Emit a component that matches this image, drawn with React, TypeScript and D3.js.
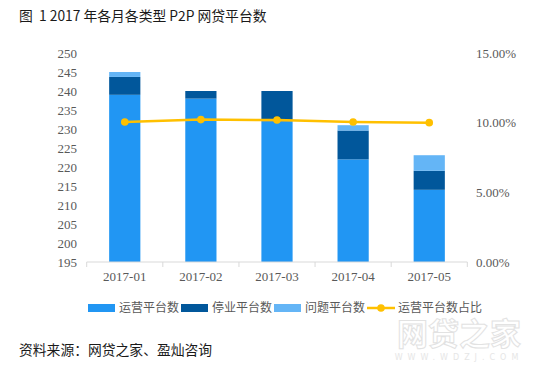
import React, { useEffect, useRef } from 'react';
import * as d3 from 'd3';

// data
const months = ['2017-01', '2017-02', '2017-03', '2017-04', '2017-05'];
const operating = [239, 238, 232, 222, 214];
const stopped = [4.7, 2, 8, 7.6, 5];
const problem = [1.3, 0, 0, 1.4, 4.1];
const operatingShare = [0.1005, 0.1022, 0.1019, 0.1005, 0.1];

const leftTicks = d3.range(195, 251, 5);
const rightTicks = [0, 0.05, 0.1, 0.15];

const seriesNames = ['运营平台数', '停业平台数', '问题平台数'];
const lineName = '运营平台数占比';
const colors = ['#2196F3', '#01579B', '#64B5F6'];
const lineColor = '#FFC000';

const cjk = '"Noto Sans CJK SC", "Noto Sans", sans-serif';
const serif = '"Liberation Serif", "DejaVu Serif", serif';

const App = () => {
  const svgRef = useRef(null);

  useEffect(() => {
    const svg = d3.select(svgRef.current);
    svg.selectAll('*').remove();

    const width = 558;
    const height = 370;
    const plot = { left: 86.7, right: 467.3, top: 53, bottom: 262 };

    svg.attr('width', width).attr('height', height);
    svg.append('rect').attr('width', width).attr('height', height).attr('fill', '#fff');

    // scales
    const x = d3
      .scaleBand()
      .domain(months)
      .range([plot.left, plot.right])
      .paddingInner(0.59)
      .paddingOuter(0.295);

    const y = d3.scaleLinear().domain([195, 250]).range([plot.bottom, plot.top]);
    const yRight = d3.scaleLinear().domain([0, 0.15]).range([plot.bottom, plot.top]);

    // stacked bars
    const rows = months.map((m, i) => ({
      month: m,
      s0: operating[i],
      s1: stopped[i],
      s2: problem[i],
    }));
    const stack = d3.stack().keys(['s0', 's1', 's2']);
    const stacked = stack(rows);

    stacked.forEach((layer, li) => {
      svg
        .append('g')
        .attr('fill', colors[li])
        .selectAll('rect')
        .data(layer)
        .join('rect')
        .attr('x', (d) => x(d.data.month))
        .attr('width', x.bandwidth())
        .attr('y', (d) => y(d[1]))
        .attr('height', (d) => y(Math.max(d[0], 195)) - y(d[1]));
    });

    // x axis
    const xAxis = svg.append('g').attr('transform', `translate(0, ${plot.bottom})`);
    xAxis
      .append('line')
      .attr('x1', plot.left)
      .attr('x2', plot.right)
      .attr('stroke', '#d9d9d9')
      .attr('stroke-width', 1);
    const bounds = [plot.left, ...months.map((m) => x(m) + x.bandwidth() / 2 + x.step() / 2)];
    xAxis
      .selectAll('.tk')
      .data(bounds)
      .join('line')
      .attr('x1', (d) => d)
      .attr('x2', (d) => d)
      .attr('y1', 0)
      .attr('y2', 5)
      .attr('stroke', '#d9d9d9');
    xAxis
      .selectAll('text')
      .data(months)
      .join('text')
      .attr('x', (d) => x(d) + x.bandwidth() / 2)
      .attr('y', 19)
      .attr('text-anchor', 'middle')
      .attr('font-family', serif)
      .attr('font-size', 13)
      .attr('fill', '#595959')
      .text((d) => d);

    // left axis labels
    svg
      .append('g')
      .selectAll('text')
      .data(leftTicks)
      .join('text')
      .attr('x', 77)
      .attr('y', (d) => y(d))
      .attr('dy', '0.35em')
      .attr('text-anchor', 'end')
      .attr('font-family', serif)
      .attr('font-size', 13)
      .attr('fill', '#595959')
      .text((d) => d);

    // right axis labels
    svg
      .append('g')
      .selectAll('text')
      .data(rightTicks)
      .join('text')
      .attr('x', 476)
      .attr('y', (d) => yRight(d))
      .attr('dy', '0.35em')
      .attr('font-family', serif)
      .attr('font-size', 13)
      .attr('fill', '#595959')
      .text((d) => d3.format('.2%')(d));

    // share line
    const line = d3
      .line()
      .x((d, i) => x(months[i]) + x.bandwidth() / 2)
      .y((d) => yRight(d));
    svg
      .append('path')
      .datum(operatingShare)
      .attr('fill', 'none')
      .attr('stroke', lineColor)
      .attr('stroke-width', 2.5)
      .attr('d', line);
    svg
      .append('g')
      .selectAll('circle')
      .data(operatingShare)
      .join('circle')
      .attr('cx', (d, i) => x(months[i]) + x.bandwidth() / 2)
      .attr('cy', (d) => yRight(d))
      .attr('r', 3.8)
      .attr('fill', lineColor);

    // title
    svg
      .append('text')
      .attr('x', 19)
      .attr('y', 21)
      .attr('font-family', cjk)
      .attr('font-size', 13.8)
      .attr('fill', '#1a1a1a')
      .style('white-space', 'pre')
      .text('图  1 2017 年各月各类型 P2P 网贷平台数');

    // legend
    const legend = svg.append('g').attr('transform', 'translate(0, 308)');
    let lx = 88;
    [...seriesNames, lineName].forEach((name, i) => {
      if (i < 3) {
        legend
          .append('rect')
          .attr('x', lx)
          .attr('y', -4)
          .attr('width', 27)
          .attr('height', 8)
          .attr('fill', colors[i]);
      } else {
        legend
          .append('line')
          .attr('x1', lx)
          .attr('x2', lx + 28)
          .attr('stroke', lineColor)
          .attr('stroke-width', 2.5);
        legend
          .append('circle')
          .attr('cx', lx + 14)
          .attr('r', 3.8)
          .attr('fill', lineColor);
      }
      legend
        .append('text')
        .attr('x', lx + 31)
        .attr('dy', '0.35em')
        .attr('font-family', cjk)
        .attr('font-size', 12)
        .attr('fill', '#595959')
        .text(name);
      lx += 31 + name.length * 11.6 + 4;
    });

    // source
    svg
      .append('text')
      .attr('x', 19)
      .attr('y', 355)
      .attr('font-family', cjk)
      .attr('font-size', 13.8)
      .attr('fill', '#1a1a1a')
      .text('资料来源：网贷之家、盈灿咨询');

    // watermark
    svg
      .append('text')
      .attr('x', 459)
      .attr('y', 345)
      .attr('text-anchor', 'middle')
      .attr('font-family', cjk)
      .attr('font-weight', 'bold')
      .attr('font-size', 31)
      .attr('fill', '#ffffff')
      .attr('stroke', '#e2e2e2')
      .attr('stroke-width', 1)
      .text('网贷之家');
    svg
      .append('text')
      .attr('x', 459)
      .attr('y', 360)
      .attr('text-anchor', 'middle')
      .attr('font-family', '"DejaVu Sans", sans-serif')
      .attr('font-size', 8)
      .attr('letter-spacing', 5)
      .attr('fill', '#e6e6e6')
      .text('WWW.WDZJ.COM');
  }, []);

  return (
    <svg
      ref={svgRef}
      style={{ position: 'absolute', left: 0, top: 0, display: 'block' }}
    ></svg>
  );
};

export default App;
